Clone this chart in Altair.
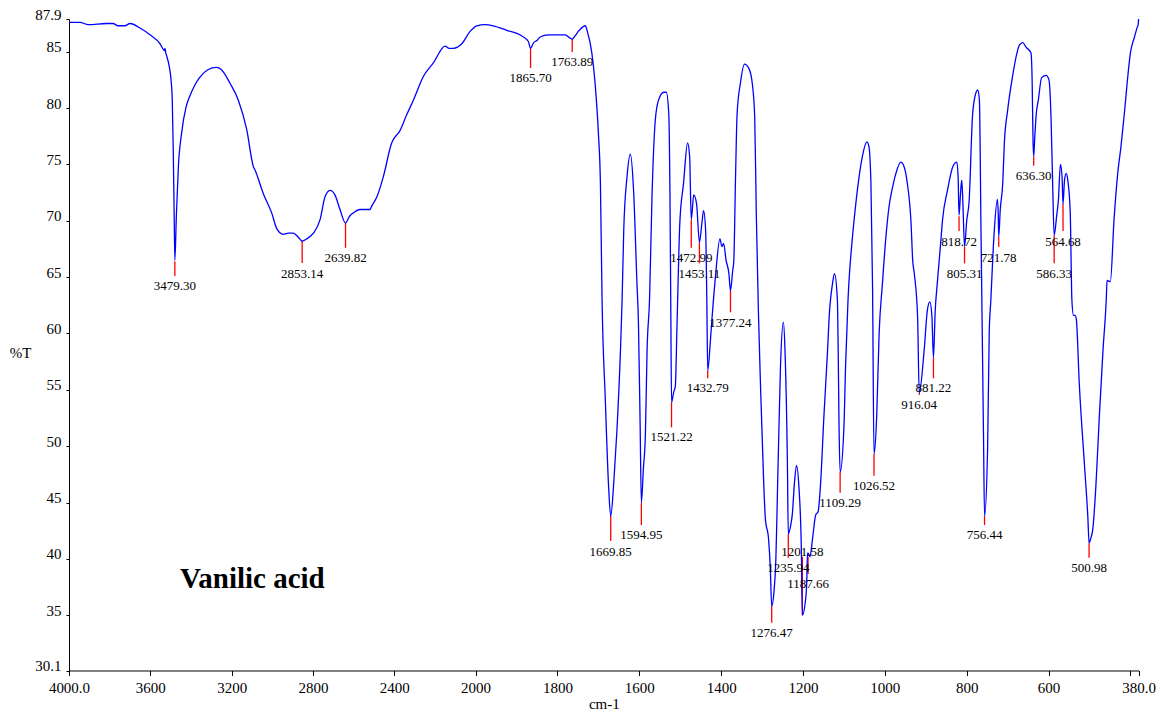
import altair as alt
import pandas as pd

# ---------------- spectrum data ----------------
wavenumber = [
    4000, 3946, 3905, 3815, 3784, 3759, 3725, 3700, 3651, 3602, 3552, 3536, 3530, 3528, 3524,
    3519, 3507, 3498, 3492, 3487, 3483, 3479.3, 3472, 3462, 3446, 3424, 3407, 3382, 3358, 3317,
    3275, 3250, 3208, 3167, 3126, 3093, 3085, 3044, 3003, 2978, 2946, 2920, 2897, 2870, 2853.14,
    2830, 2798, 2765, 2741, 2716, 2692, 2667, 2639.82, 2620, 2601, 2569, 2519, 2511, 2486, 2454,
    2413, 2372, 2339, 2306, 2257, 2208, 2150, 2130, 2110, 2068, 2027, 1997, 1977, 1957, 1924,
    1887, 1871, 1865.7, 1858, 1850, 1842, 1822, 1781, 1769, 1763.89, 1757, 1749, 1738, 1732, 1727,
    1716, 1708, 1700, 1695, 1691, 1683, 1675, 1669.85, 1662, 1655, 1646, 1642, 1638, 1630, 1622,
    1614, 1606, 1602, 1598, 1594.95, 1590, 1585, 1581, 1575, 1569, 1561, 1553, 1540, 1534, 1528,
    1525, 1523, 1521.22, 1516, 1512, 1508, 1501, 1492, 1482, 1477, 1472.99, 1467, 1460, 1453.11, 1447,
    1443, 1438, 1435, 1432.79, 1426, 1422, 1414, 1403, 1398, 1394, 1388, 1381, 1377.24, 1372, 1369,
    1365, 1361, 1353, 1343, 1332, 1324, 1318, 1314, 1309, 1304, 1296, 1292, 1284, 1280, 1276.47,
    1270, 1267, 1261, 1255, 1248, 1244, 1238, 1235.94, 1230, 1226, 1221, 1216, 1210, 1204, 1201.58,
    1195, 1191, 1189, 1187.66, 1183, 1177, 1169, 1163, 1157, 1149, 1140, 1136, 1128, 1123, 1116,
    1114, 1112, 1109.29, 1100, 1096, 1090, 1088, 1079, 1071, 1063, 1055, 1044, 1039, 1034, 1030,
    1026.52, 1020, 1014, 1006, 998, 990, 981, 973, 961, 953, 945, 936, 932, 928, 920,
    916.04, 904, 896, 890, 885, 881.22, 877, 872, 863, 859, 847, 834, 824, 821, 818.72,
    815, 812, 809, 805.31, 800, 794, 786, 780, 773, 769, 765, 763, 759, 756.44, 749,
    745, 741, 733, 725, 723, 721.78, 718, 712, 708, 700, 688, 679, 671, 663, 655,
    643, 640, 638, 636.3, 634, 630, 625, 617, 606, 599, 594, 590, 586.33, 580, 576,
    571, 567, 564.68, 561, 557, 553, 547, 543, 539, 535, 532, 525, 512, 504, 500.98,
    497, 492, 484, 476, 467, 459, 457, 449, 440, 431, 423, 414, 408, 400, 390,
    383, 381, 380,
]
transmittance = [
    87.6, 87.6, 87.4, 87.5, 87.5, 87.3, 87.3, 87.5, 87.1, 86.5, 85.7, 85.2, 85.1, 85.3, 84.9,
    84.6, 83.7, 82.5, 80.7, 76.0, 71.0, 66.5, 70.4, 74.8, 77.8, 80.1, 81.0, 82.0, 82.7, 83.4,
    83.6, 83.4, 82.2, 80.7, 78.1, 74.8, 74.5, 72.4, 70.7, 69.3, 68.8, 68.9, 68.9, 68.5, 68.2,
    68.4, 68.9, 70.1, 72.1, 72.7, 72.3, 71.0, 69.8, 70.4, 70.7, 71.0, 71.0, 71.3, 72.1, 73.9,
    76.9, 78.0, 79.4, 80.7, 82.8, 84.0, 85.5, 85.3, 85.3, 85.7, 86.8, 87.3, 87.4, 87.3, 86.9,
    86.4, 85.9, 85.3, 85.8, 86.0, 86.3, 86.5, 86.5, 86.2, 86.1, 86.4, 86.8, 87.2, 87.3, 86.8,
    84.9, 82.2, 77.8, 73.3, 63.0, 54.1, 46.4, 43.8, 47.0, 51.2, 58.5, 63.0, 69.2, 73.9, 75.9,
    72.7, 64.7, 60.8, 52.0, 45.0, 48.0, 51.2, 58.5, 63.0, 72.1, 78.9, 80.7, 81.4, 81.4, 79.5,
    72.0, 62.0, 53.9, 54.8, 55.3, 60.5, 69.8, 73.3, 76.9, 75.7, 70.1, 72.3, 71.5, 68.1, 69.8,
    70.9, 69.2, 63.0, 56.7, 59.5, 61.5, 65.0, 68.4, 67.7, 68.0, 66.5, 65.3, 63.8, 65.5, 66.5,
    73.6, 79.5, 82.2, 83.9, 83.5, 82.2, 79.2, 70.4, 62.0, 55.6, 46.7, 43.6, 41.7, 39.3, 35.8,
    37.5, 39.3, 48.2, 57.1, 61.0, 58.5, 48.2, 42.2, 43.0, 44.0, 46.7, 48.3, 46.4, 40.8, 35.0,
    36.0, 37.8, 40.5, 40.5, 40.2, 41.7, 43.9, 44.2, 46.7, 52.6, 58.5, 61.5, 64.4, 65.3, 63.0,
    58.5, 52.0, 47.7, 51.7, 57.1, 63.0, 64.4, 68.6, 71.5, 73.9, 75.7, 77.0, 76.6, 73.3, 64.0,
    49.3, 52.6, 60.0, 64.4, 68.3, 71.2, 73.0, 74.2, 75.2, 74.8, 73.3, 69.8, 66.5, 65.3, 61.5,
    54.7, 58.5, 62.1, 62.8, 61.5, 57.85, 62.0, 64.4, 68.3, 70.1, 72.7, 74.8, 75.2, 73.9, 70.5,
    72.5, 73.6, 71.2, 67.7, 70.0, 71.8, 79.2, 81.0, 81.6, 80.7, 68.9, 63.0, 51.1, 43.8, 49.7,
    60.0, 63.0, 68.9, 71.9, 70.7, 68.6, 71.0, 73.3, 76.9, 79.8, 82.8, 84.6, 85.6, 85.8, 85.4,
    84.9, 82.2, 77.2, 75.7, 77.2, 79.5, 80.7, 82.7, 82.9, 82.5, 79.2, 73.3, 68.7, 70.5, 71.8,
    75.0, 73.9, 71.5, 73.6, 74.2, 73.6, 70.7, 63.0, 61.6, 61.6, 61.2, 55.6, 48.2, 43.7, 41.4,
    41.8, 42.6, 46.7, 52.6, 58.5, 63.0, 64.7, 64.6, 70.1, 74.2, 76.6, 79.8, 82.2, 84.9, 86.3,
    87.2, 87.4, 87.9,
]

# ---------------- peak annotations ----------------
peak_labels = ["3479.30", "2853.14", "2639.82", "1865.70", "1763.89", "1669.85", "1594.95",
               "1521.22", "1472.99", "1453.11", "1432.79", "1377.24", "1276.47", "1235.94",
               "1201.58", "1187.66", "1109.29", "1026.52", "916.04", "881.22", "818.72",
               "805.31", "756.44", "721.78", "636.30", "586.33", "564.68", "500.98"]
peak_wn = [3479.30, 2853.14, 2639.82, 1865.70, 1763.89, 1669.85, 1594.95,
           1521.22, 1472.99, 1453.11, 1432.79, 1377.24, 1276.47, 1235.94,
           1201.58, 1187.66, 1109.29, 1026.52, 916.04, 881.22, 818.72,
           805.31, 756.44, 721.78, 636.30, 586.33, 564.68, 500.98]
peak_T = [66.4, 68.2, 69.8, 85.3, 86.1, 43.8, 45.0,
          53.9, 70.1, 68.1, 56.7, 63.8, 35.8, 42.2,
          35.0, 40.2, 47.7, 49.3, 54.7, 57.85, 70.4,
          67.7, 43.8, 68.6, 75.7, 68.7, 71.5, 41.4]
tick_end_T = [65.1, 66.25, 67.6, 83.55, 84.97, 41.6, 43.0,
              51.67, 67.6, 66.22, 56.02, 61.88, 34.34, 40.1,
              40.19, 38.66, 45.87, 47.38, 54.54, 56.02, 69.09,
              66.22, 43.0, 67.7, 74.88, 66.22, 69.09, 40.1]
label_T = [64.21, 65.27, 66.72, 82.69, 84.11, 40.63, 42.12,
           50.84, 66.67, 65.27, 55.19, 60.95, 33.45, 39.21,
           40.63, 37.77, 44.98, 46.49, 53.65, 55.13, 68.14,
           65.27, 42.12, 66.72, 74.0, 65.27, 68.14, 39.21]

sample_name = ["Vanilic acid"]
sample_wn = [3454]
sample_T = [37.4]

x_ticks = [4000, 3600, 3200, 2800, 2400, 2000, 1800, 1600, 1400, 1200, 1000, 800, 600, 400, 380]
y_ticks = [30.1, 35, 40, 45, 50, 55, 60, 65, 70, 75, 80, 85, 87.9]

FONT = "Liberation Serif"
W, H = 1069.6, 651.5

spec_df = pd.DataFrame({"wn": wavenumber, "T": transmittance,
                        "i": list(range(len(wavenumber)))})
peaks_df = pd.DataFrame({"label": peak_labels, "wn": peak_wn, "T": peak_T,
                         "T2": tick_end_T, "LT": label_T})
name_df = pd.DataFrame({"name": sample_name, "wn": sample_wn, "T": sample_T})

xscale = alt.Scale(domain=[4000, 2000, 380], range=[0, 406.6, W], nice=False, zero=False)
yscale = alt.Scale(domain=[30.1, 87.9], nice=False, zero=False)

xaxis = alt.Axis(
    values=x_ticks,
    labelExpr="datum.value == 4000 ? '4000.0' : datum.value == 380 ? '380.0' : datum.value == 400 ? '' : format(datum.value, 'd')",
    title="cm-1", titleFont=FONT, titleFontSize=15, titleFontWeight="normal", titleColor="#000",
    titlePadding=1,
    labelFont=FONT, labelFontSize=15, labelColor="#000", labelOverlap=False, labelFlush=False,
    labelPadding=5, tickSize=5, tickColor="#000", domainColor="#000", grid=False,
)
yaxis = alt.Axis(
    values=y_ticks,
    labelExpr="datum.value == 30.1 ? '30.1' : datum.value == 87.9 ? '87.9' : format(datum.value, 'd')",
    title="%T", titleAngle=0, titleX=-49, titleY=333, titleAlign="center", titleBaseline="middle",
    titleFont=FONT, titleFontSize=15, titleFontWeight="normal", titleColor="#000",
    labelFont=FONT, labelFontSize=15, labelColor="#000", labelBaseline="alphabetic",
    labelOverlap=False, labelFlush=False, labelPadding=5, tickSize=3, tickColor="#000",
    domainColor="#000", grid=False,
)

line = alt.Chart(spec_df).mark_line(color="#0000FF", strokeWidth=1.3, interpolate="monotone").encode(
    x=alt.X("wn:Q", scale=xscale, axis=xaxis),
    y=alt.Y("T:Q", scale=yscale, axis=yaxis),
    order="i:Q",
)

ticks = alt.Chart(peaks_df).mark_rule(color="#FF0000", strokeWidth=1.3).encode(
    x="wn:Q", y="T:Q", y2="T2:Q",
)

labels = alt.Chart(peaks_df).mark_text(
    font=FONT, fontSize=13, color="#000", align="center", baseline="middle"
).encode(x="wn:Q", y="LT:Q", text="label:N")

name = alt.Chart(name_df).mark_text(
    font=FONT, fontSize=29, fontWeight="bold", color="#000", align="left", baseline="alphabetic"
).encode(x="wn:Q", y="T:Q", text="name:N")

chart = alt.layer(ticks, line, labels, name).properties(
    width=W, height=H,
    autosize=alt.AutoSizeParams(type="none"),
    padding={"left": 61, "top": 11, "right": 17, "bottom": 52},
).configure_view(stroke=None)

chart.save("out.html", embed_options={"renderer": "svg", "actions": False})
